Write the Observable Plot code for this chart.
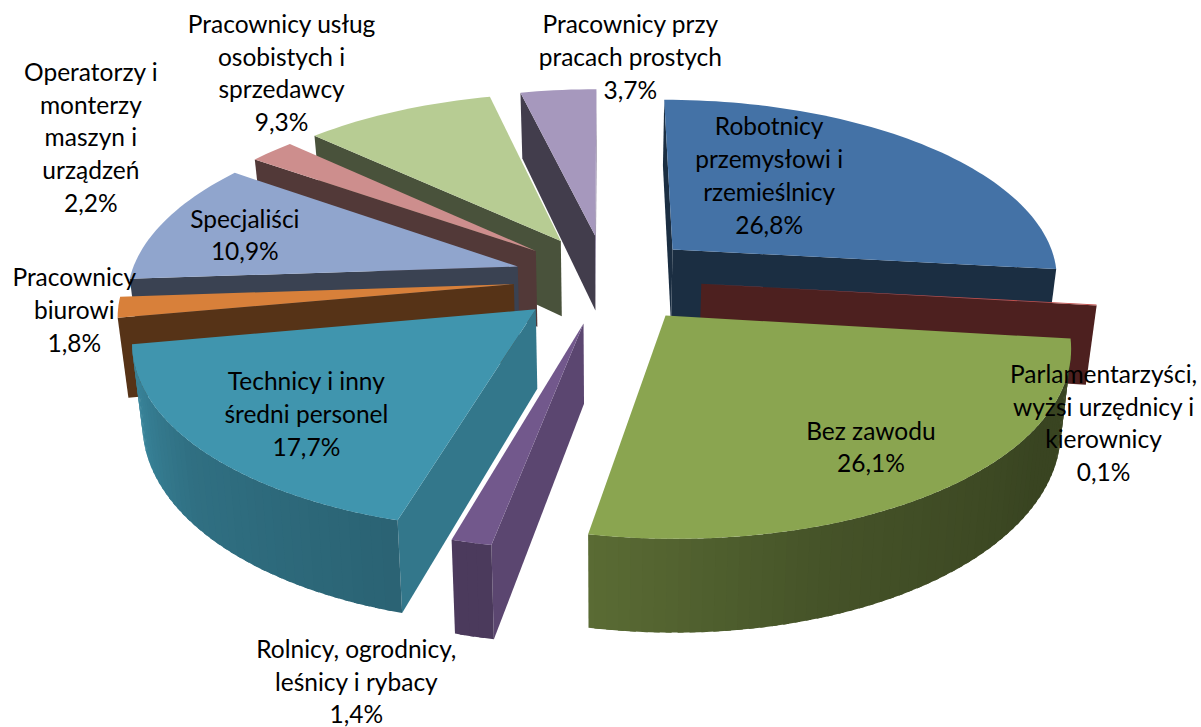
<!DOCTYPE html>
<html>
<head>
<meta charset="utf-8">
<style>html,body{margin:0;padding:0;background:#fff}svg{display:block}</style>
<script src="https://cdn.jsdelivr.net/npm/d3@7"></script>
<script src="https://cdn.jsdelivr.net/npm/@observablehq/plot@0.6"></script>
</head>
<body>
<div id="chart"></div>
<script>
// Data, clockwise from the top of the pie
const categories = ["Robotnicy\nprzemysłowi i\nrzemieślnicy","Parlamentarzyści,\nwyżsi urzędnicy i\nkierownicy","Bez zawodu","Rolnicy, ogrodnicy,\nleśnicy i rybacy","Technicy i inny\nśredni personel","Pracownicy\nbiurowi","Specjaliści","Operatorzy i\nmonterzy\nmaszyn i\nurządzeń","Pracownicy usług\nosobistych i\nsprzedawcy","Pracownicy przy\npracach prostych"];
const values = [26.8,0.1,26.1,1.4,17.7,1.8,10.9,2.2,9.3,3.7];
const valueLabels = ["26,8%","0,1%","26,1%","1,4%","17,7%","1,8%","10,9%","2,2%","9,3%","3,7%"];
const colors = ["#4472a6","#c0504d","#8aa550","#72588c","#4095ae","#d8803a","#90a5cd","#cd8e8d","#b7cc93","#a698bd"];
// Label offset from the slice's rim midpoint
const labelShiftX = [-156,7,-71,-115,105,-44,80,-181,-116,72];
const labelShiftY = [32,120,-41,141,-34,5,16,-12,-36,-31];
// Extra sideways pull of a slice, on top of the common explosion
const sliceNudge = [0,4,4,0,0,0,0,0,0,0];

// 3D look of the pie
const R = 388, explode = 92, explodeDepth = 1.05, camera = 2683, tilt = 0.4617, depth = 77.5, shrink = 0.978;
const W = 1201, H = 727, originX = 605, originY = 278;

const rad = d => d * Math.PI / 180;
const project = (gx, gz, low) => {
  const f = camera / (camera - gz);
  return {x: gx * f * (low ? shrink : 1), y: gz * tilt * f + (low ? depth * f : 0)};
};
const rimShade = d3.scaleLinear().domain([0,120,160,190,230,260,360]).range([.41,.41,.5,.65,.75,.93,.93]);
const tint = (c, m) => { const r = d3.rgb(c); return d3.rgb(r.r*m, r.g*m, r.b*m).formatHex(); };

const total = d3.sum(values);
let run = 0;
const slices = values.map((v, i) => {
  const a0 = run / total * 360; run += v; const a1 = run / total * 360;
  const mid = (a0 + a1) / 2;
  return {i, a0, a1, mid,
    ax: explode * Math.sin(rad(mid)) + sliceNudge[i],
    az: -explode * explodeDepth * Math.cos(rad(mid))};
});

const polys = [];
let pid = 0;
function poly(pts, fill) {
  const id = pid++;
  pts.forEach(p => polys.push({x: p.x, y: p.y, id, fill}));
}
const rimPoint = (s, a) => [s.ax + R * Math.sin(rad(a)), s.az - R * Math.cos(rad(a))];
const facesCamera = (nx, nz, px, pz) => nx * (0 - px) + nz * (camera - pz) > 0;

function wall(s, a, normalAngle) {
  const nx = Math.sin(rad(normalAngle)), nz = -Math.cos(rad(normalAngle));
  if (!facesCamera(nx, nz, s.ax, s.az)) return;
  const [gx, gz] = rimPoint(s, a);
  const m = ((normalAngle + 360) % 360) < 130 ? .8 : .4;
  poly([project(s.ax, s.az), project(gx, gz), project(gx, gz, true), project(s.ax, s.az, true)], tint(colors[s.i], m));
}

slices.slice().sort((p, q) => p.az - q.az).forEach(s => {
  wall(s, s.a0, s.a0 - 90);
  wall(s, s.a1, s.a1 + 90);
  const n = Math.max(1, Math.ceil((s.a1 - s.a0) / 1.5));
  const step = (s.a1 - s.a0) / n;
  // Rim strips run from the clockwise end so that each one overlaps the next and no seam shows
  for (let k = n - 1; k >= 0; k--) {
    const b0 = s.a0 + step * k, bm = b0 + step / 2, b1 = k === n - 1 ? s.a1 : b0 + step * 1.5;
    const [g0x, g0z] = rimPoint(s, b0), [g1x, g1z] = rimPoint(s, b1);
    if (!facesCamera(Math.sin(rad(bm)), -Math.cos(rad(bm)), (g0x + g1x) / 2, (g0z + g1z) / 2)) continue;
    poly([project(g0x, g0z), project(g1x, g1z), project(g1x, g1z, true), project(g0x, g0z, true)], tint(colors[s.i], rimShade(bm)));
  }
  const top = [project(s.ax, s.az)];
  for (let k = 0; k <= n; k++) {
    const [gx, gz] = rimPoint(s, s.a0 + step * k);
    top.push(project(gx, gz));
  }
  poly(top, colors[s.i]);
});

const labels = slices.map(s => {
  const [gx, gz] = rimPoint(s, s.mid);
  const p = project(gx, gz);
  return {x: p.x + labelShiftX[s.i], y: p.y + labelShiftY[s.i], text: categories[s.i] + "\n" + valueLabels[s.i]};
});

const plot = Plot.plot({
  width: W, height: H, margin: 0,
  x: {domain: [-originX, W - originX], range: [0, W], axis: null},
  y: {domain: [-originY, H - originY], range: [0, H], axis: null},
  color: {type: "identity"},
  style: {background: "#fff"},
  marks: [
    Plot.line(polys, {x: "x", y: "y", z: "id", fill: "fill", stroke: "none", curve: "linear"}),
    Plot.text(labels, {x: "x", y: "y", dy: -3.5, text: "text", fill: "#000", fontFamily: "Lato", fontSize: 24.5, lineHeight: 1.34, textAnchor: "middle"})
  ]
});
document.getElementById("chart").appendChild(plot);
</script>
</body>
</html>
